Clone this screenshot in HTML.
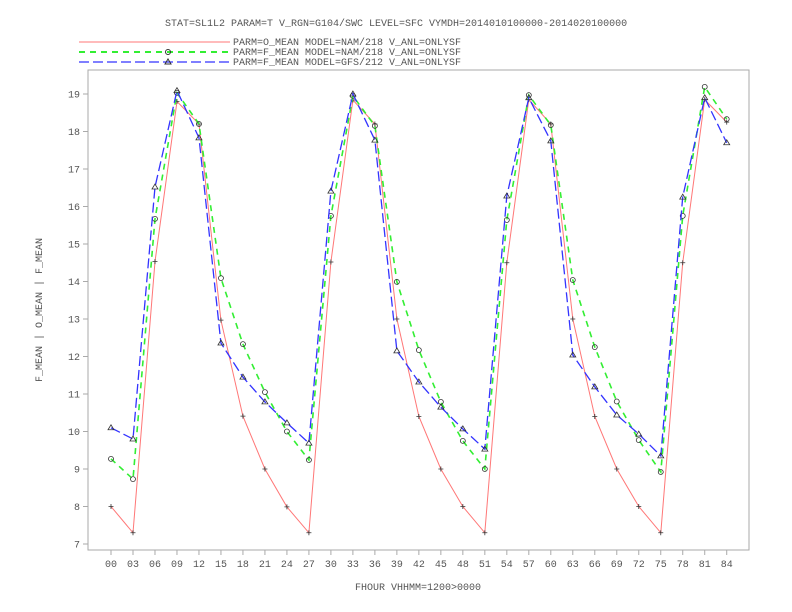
<!DOCTYPE html>
<html><head><meta charset="utf-8"><style>
body{margin:0;background:#fff;}
svg{display:block;font-family:"Liberation Mono",monospace;}
</style></head><body>
<svg id="chart" width="792" height="612" viewBox="0 0 792 612" xmlns="http://www.w3.org/2000/svg">
<rect width="792" height="612" fill="#fff"/>
<text x="165" y="26" font-size="10" fill="#555">STAT=SL1L2 PARAM=T V_RGN=G104/SWC LEVEL=SFC VYMDH=2014010100000-2014020100000</text>
<g>
<g>
<line x1="79" y1="42" x2="230" y2="42" stroke="#f77" stroke-width="1"/>
<text x="233" y="45" font-size="10" fill="#555">PARM=O_MEAN MODEL=NAM/218 V_ANL=ONLYSF</text></g>
<g>
<line x1="79" y1="52" x2="230" y2="52" stroke="#3e3" stroke-width="2" stroke-dasharray="6,5"/>
<circle cx="168" cy="52" r="2.5" fill="none" stroke="#333"/>
<text x="233" y="55" font-size="10" fill="#555">PARM=F_MEAN MODEL=NAM/218 V_ANL=ONLYSF</text></g>
<g>
<line x1="79" y1="62" x2="230" y2="62" stroke="#33f" stroke-width="1.3" stroke-dasharray="10,4"/>
<path d="M165,64 L168,59 L171,64 Z" fill="none" stroke="#333"/>
<text x="233" y="65" font-size="10" fill="#555">PARM=F_MEAN MODEL=GFS/212 V_ANL=ONLYSF</text></g>
</g>
<rect x="88" y="70" width="661" height="480" fill="none" stroke="#aaa"/>
<g id="axes"></g>
<g id="series"></g>
<text transform="translate(42,310) rotate(-90)" text-anchor="middle" font-size="10" fill="#555">F_MEAN | O_MEAN | F_MEAN</text>
<text x="418" y="590" text-anchor="middle" font-size="10" fill="#555">FHOUR VHHMM=1200&gt;0000</text>
</svg>
<script>
const categories=["00","03","06","09","12","15","18","21","24","27","30","33","36","39","42","45","48","51","54","57","60","63","66","69","72","75","78","81","84"];
const yTicks=[7,8,9,10,11,12,13,14,15,16,17,18,19];
const oMeanNam=[8.0,7.3,14.53,18.8,18.2,12.97,10.41,9.0,7.99,7.3,14.52,18.84,18.2,13.0,10.4,9.0,8.0,7.3,14.5,18.85,18.2,13.0,10.4,9.0,8.0,7.3,14.5,18.85,18.25];
const fMeanNam=[9.27,8.73,15.67,19.03,18.2,14.09,12.33,11.05,10.0,9.24,15.75,18.95,18.15,13.99,12.17,10.79,9.75,9.0,15.64,18.97,18.17,14.04,12.25,10.8,9.77,8.92,15.75,19.19,18.33];
const fMeanGfs=[10.1,9.8,16.52,19.09,17.83,12.36,11.45,10.79,10.23,9.69,16.41,19.0,17.77,12.15,11.32,10.65,10.07,9.53,16.28,18.9,17.75,12.04,11.19,10.44,9.93,9.35,16.25,18.9,17.7];

const NS="http://www.w3.org/2000/svg";
const xScale=i=>111+i*21.99;
const yScale=v=>544-(v-7)*37.5;
function mk(tag,attrs,parent){const e=document.createElementNS(NS,tag);for(const k in attrs)e.setAttribute(k,attrs[k]);parent.appendChild(e);return e;}
const axes=document.getElementById('axes');
yTicks.forEach(v=>{
  const y=yScale(v);
  const t=mk('line',{x1:83,y1:y,x2:88,y2:y,stroke:'#aaa'},axes);
  
  
  const l=mk('text',{x:80,y:y+3.5,'text-anchor':'end','font-size':'10',fill:'#555'},axes);
  
  
  l.textContent=v;
});
categories.forEach((c,i)=>{
  const x=xScale(i);
  const t=mk('line',{x1:x,y1:550,x2:x,y2:555,stroke:'#aaa'},axes);
  
  
  const l=mk('text',{x:x,y:567,'text-anchor':'middle','font-size':'10',fill:'#555'},axes);
  
  
  l.textContent=c;
});
const ser=document.getElementById('series');
function drawSeries(vals,name,stroke,width,dash,marker){
  const g=mk('g',{},ser);
  
  
  const pts=vals.map((v,i)=>xScale(i).toFixed(1)+','+yScale(v).toFixed(1)).join(' ');
  const attrs={points:pts,fill:'none',stroke:stroke,'stroke-width':width};
  if(dash)attrs['stroke-dasharray']=dash;
  const pl=mk('polyline',attrs,g);
  
  
  vals.forEach((v,i)=>{
    const x=xScale(i),y=yScale(v);let m;
    if(marker==='plus')m=mk('path',{d:`M${x-2.5},${y}H${x+2.5}M${x},${y-2.5}V${y+2.5}`,stroke:'#333','stroke-width':0.8,fill:'none'},g);
    else if(marker==='circle')m=mk('circle',{cx:x,cy:y,r:2.5,fill:'none',stroke:'#333','stroke-width':0.8},g);
    else m=mk('path',{d:`M${x-3},${y+2} L${x},${y-3} L${x+3},${y+2} Z`,fill:'none',stroke:'#333','stroke-width':0.8},g);
    
    
  });
}
drawSeries(oMeanNam,'series-o-mean-nam','#f77',1,null,'plus');
drawSeries(fMeanNam,'series-f-mean-nam','#3e3',1.6,'6,5','circle');
drawSeries(fMeanGfs,'series-f-mean-gfs','#33f',1.3,'10,4','tri');
</script>
</body></html>
